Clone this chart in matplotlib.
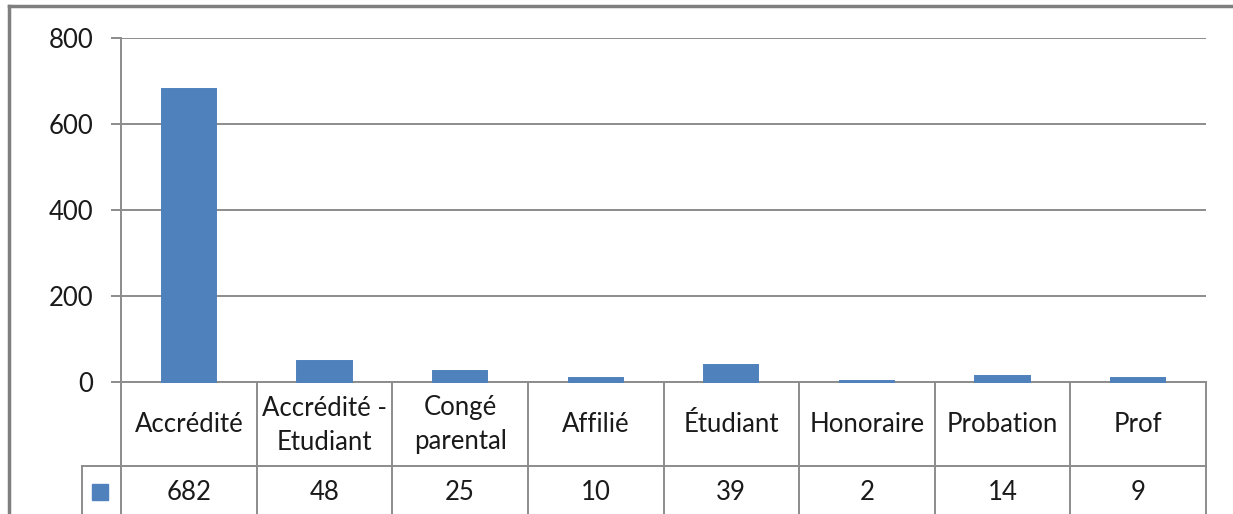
import matplotlib
matplotlib.use("Agg")
import matplotlib.pyplot as plt
from matplotlib.patches import Rectangle
from matplotlib.lines import Line2D

categories = ["Accrédité", "Accrédité -\nEtudiant", "Congé\nparental", "Affilié",
              "Étudiant", "Honoraire", "Probation", "Prof"]
values = [682, 48, 25, 10, 39, 2, 14, 9]
yticks = [0, 200, 400, 600, 800]

W, H = 1233, 514
fig = plt.figure(figsize=(W / 100, H / 100), dpi=100)
plt.rcParams['font.family'] = ['Lato', 'DejaVu Sans']

def fx(px):
    return px / W

def fy(py):
    return 1 - py / H

gray = "#8c8c8c"
bar_col = "#4F81BD"
txt = "#1a1a1a"
FS = 18.5

ax_left, ax_right, ax_top, ax_bot = 121, 1206, 38, 382
ax = fig.add_axes([fx(ax_left), fy(ax_bot), fx(ax_right - ax_left), (ax_bot - ax_top) / H])
n = len(categories)
x = list(range(n))
ax.bar(x, values, width=0.40, color=bar_col, edgecolor=bar_col, linewidth=1.4,
       zorder=5, clip_on=False)
ax.set_xlim(-0.5, n - 0.5)
ax.set_ylim(0, 800)
ax.set_yticks(yticks)
ax.set_yticklabels([str(t) for t in yticks], fontsize=FS, color=txt)
ax.tick_params(axis='y', length=7, width=1.4, color=gray, pad=13)
ax.set_xticks([])
for s in ["top", "right", "bottom"]:
    ax.spines[s].set_visible(False)
ax.spines["left"].set_color(gray)
ax.spines["left"].set_linewidth(1.4)
ax.grid(axis='y', color=gray, linewidth=1.4, zorder=0)
ax.set_axisbelow(True)

# data table below the axis
ah = ax_bot - ax_top
def ay(py):
    return (ax_bot - py) / ah

tr = ax.get_xaxis_transform()
row1 = 466
bottom = 520
ax.add_line(Line2D([-0.5, n - 0.5], [0, 0], transform=tr, color=gray, lw=1.4, clip_on=False, zorder=4))
key_left = 82
fig.add_artist(Line2D([fx(key_left), fx(ax_right)], [fy(row1), fy(row1)], color=gray, lw=1.4))
fig.add_artist(Line2D([fx(key_left), fx(key_left)], [fy(row1), fy(bottom)], color=gray, lw=1.4))
fig.add_artist(Line2D([fx(ax_left), fx(ax_left)], [fy(ax_bot), fy(bottom)], color=gray, lw=1.4))
for i in range(n):
    xb = i + 0.5
    ax.add_line(Line2D([xb, xb], [0, ay(bottom)], transform=tr, color=gray, lw=1.4, clip_on=False))
for i, (c, v) in enumerate(zip(categories, values)):
    ax.text(i, ay(425), c, transform=tr, ha='center', va='center', fontsize=FS,
            color=txt, linespacing=1.45, clip_on=False)
    ax.text(i, ay(492), str(v), transform=tr, ha='center', va='center', fontsize=FS,
            color=txt, clip_on=False)
fig.add_artist(Rectangle((fx(92), fy(500)), fx(16), 16 / H, color=bar_col))

# outer chart border
fig.add_artist(Line2D([fx(9), fx(9)], [fy(6), fy(520)], color="#7f7f7f", lw=2.5))
fig.add_artist(Line2D([fx(9), fx(1240)], [fy(6), fy(6)], color="#7f7f7f", lw=2.5))

fig.savefig("out.png", dpi=100, facecolor="white")
